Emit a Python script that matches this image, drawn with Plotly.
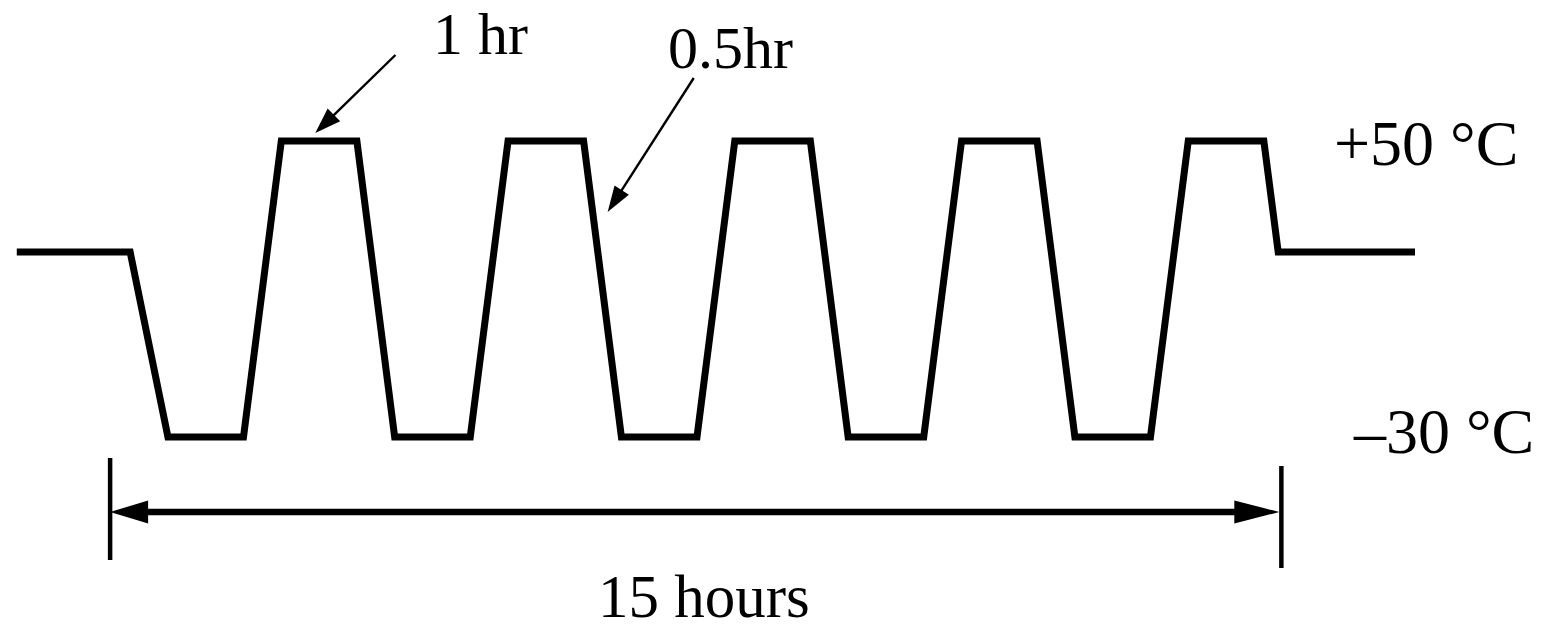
import plotly.graph_objects as go

# Thermal cycling profile: time in hours, chamber temperature in °C
time_h = [-1.5, 0.0, 0.5, 1.5, 2.0, 3.0, 3.5, 4.5, 5.0, 6.0, 6.5, 7.5,
          8.0, 9.0, 9.5, 10.5, 11.0, 12.0, 12.5, 13.5, 14.0, 15.0, 15.19, 17.0]
temp_c = [20, 20, -30, -30, 50, 50, -30, -30, 50, 50, -30, -30,
          50, 50, -30, -30, 50, 50, -30, -30, 50, 50, 20, 20]

level_labels = ["+50 °C", "–30 °C"]
dwell_label = "1 hr"
ramp_label = "0.5hr"
span_label = "15 hours"

W, H = 1547, 624
X_RANGE = [-1.7219, 18.7465]
Y_RANGE = [-80.54, 88.108]
SX = W / (X_RANGE[1] - X_RANGE[0])
SY = H / (Y_RANGE[1] - Y_RANGE[0])

FONT = "Liberation Serif, Times New Roman, serif"


def to_px(t, T):
    return (t - X_RANGE[0]) * SX, (Y_RANGE[1] - T) * SY


def to_data(px, py):
    return X_RANGE[0] + px / SX, Y_RANGE[1] - py / SY


def head_path(tail, tip, length, width):
    """Filled triangular arrowhead with its point at `tip`, pointing away from `tail`."""
    tx, ty = to_px(*tail)
    hx, hy = to_px(*tip)
    dx, dy = hx - tx, hy - ty
    n = (dx * dx + dy * dy) ** 0.5
    ux, uy = dx / n, dy / n
    bx, by = hx - ux * length, hy - uy * length
    px_, py_ = -uy * width / 2, ux * width / 2
    pts = [(hx, hy), (bx + px_, by + py_), (bx - px_, by - py_)]
    d = [to_data(x, y) for x, y in pts]
    return "M{},{} L{},{} L{},{} Z".format(d[0][0], d[0][1], d[1][0], d[1][1], d[2][0], d[2][1])


def shorten(tail, tip, length):
    """Point `length` pixels back from `tip` toward `tail`."""
    tx, ty = to_px(*tail)
    hx, hy = to_px(*tip)
    dx, dy = hx - tx, hy - ty
    n = (dx * dx + dy * dy) ** 0.5
    return to_data(hx - dx / n * length, hy - dy / n * length)


fig = go.Figure()
fig.add_trace(go.Scatter(x=time_h, y=temp_c, mode="lines",
                         line=dict(color="black", width=7),
                         hoverinfo="skip", showlegend=False))

shapes = []

# leader arrows for the dwell / ramp callouts
callouts = [((3.510, 73.24), (2.450, 52.16), 26, 18),
            ((7.457, 67.03), (6.318, 30.81), 26, 17)]
for tail, tip, hl, hw in callouts:
    end = shorten(tail, tip, hl - 2)
    shapes.append(dict(type="line", xref="x", yref="y", x0=tail[0], y0=tail[1],
                       x1=end[0], y1=end[1], line=dict(color="black", width=2.4)))
    shapes.append(dict(type="path", xref="x", yref="y", path=head_path(tail, tip, hl, hw),
                       fillcolor="black", line=dict(width=0)))

# overall duration dimension line
dim_y = -50.27
dim_l, dim_r = -0.265, 15.205
a = shorten((dim_r, dim_y), (dim_l, dim_y), 36)
b = shorten((dim_l, dim_y), (dim_r, dim_y), 42)
shapes.append(dict(type="line", xref="x", yref="y", x0=a[0], y0=dim_y, x1=b[0], y1=dim_y,
                   line=dict(color="black", width=6.5)))
shapes.append(dict(type="path", xref="x", yref="y",
                   path=head_path((dim_r, dim_y), (dim_l, dim_y), 38, 23),
                   fillcolor="black", line=dict(width=0)))
shapes.append(dict(type="path", xref="x", yref="y",
                   path=head_path((dim_l, dim_y), (dim_r, dim_y), 45, 23),
                   fillcolor="black", line=dict(width=0)))
shapes.append(dict(type="line", xref="x", yref="y", x0=-0.265, y0=-35.68, x1=-0.265, y1=-63.24,
                   line=dict(color="black", width=4.5)))
shapes.append(dict(type="line", xref="x", yref="y", x0=15.232, y0=-37.84, x1=15.232, y1=-65.41,
                   line=dict(color="black", width=4.5)))

annotations = []
for text, x, y, size in [(dwell_label, 4.636, 78.92, 60),
                         (ramp_label, 7.947, 75.13, 60),
                         (level_labels[0], 17.152, 49.46, 64),
                         (level_labels[1], 17.377, -28.38, 64),
                         (span_label, 7.589, -73.24, 61)]:
    annotations.append(dict(text=text, x=x, y=y, xref="x", yref="y", showarrow=False,
                            xanchor="center", yanchor="middle",
                            font=dict(family=FONT, size=size, color="black")))

fig.update_layout(
    width=W, height=H,
    margin=dict(l=0, r=0, t=0, b=0),
    paper_bgcolor="white", plot_bgcolor="white",
    xaxis=dict(range=X_RANGE, visible=False, fixedrange=True),
    yaxis=dict(range=Y_RANGE, visible=False, fixedrange=True),
    shapes=shapes, annotations=annotations,
)

fig.write_html("out.html")
